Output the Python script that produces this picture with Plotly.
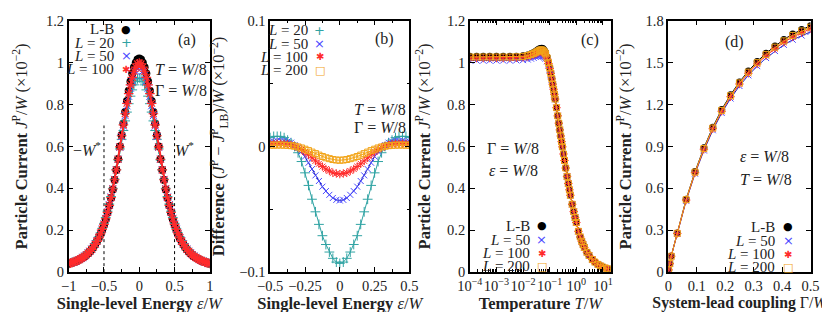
import numpy as np
import plotly.graph_objects as go

# ---------------- data ----------------
# (a) particle current vs single-level energy
eps_a = np.linspace(-1, 1, 81)
J_LB_a = [0.040,0.042,0.045,0.048,0.051,0.055,0.059,0.064,0.069,0.075,0.082,0.090,0.098,0.108,0.119,0.132,0.146,0.162,0.181,0.202,
          0.226,0.253,0.283,0.317,0.354,0.395,0.440,0.488,0.540,0.600,0.655,0.710,0.765,0.817,0.866,0.910,0.948,0.978,1.000,1.015,
          1.020,
          1.015,1.000,0.978,0.948,0.910,0.866,0.817,0.765,0.710,0.655,0.600,0.540,0.488,0.440,0.395,0.354,0.317,0.283,0.253,0.226,
          0.202,0.181,0.162,0.146,0.132,0.119,0.108,0.098,0.090,0.082,0.075,0.069,0.064,0.059,0.055,0.051,0.048,0.045,0.042,0.040]
J_L20_a = [0.042,0.044,0.047,0.050,0.053,0.057,0.061,0.066,0.072,0.078,0.085,0.093,0.102,0.112,0.123,0.137,0.151,0.168,0.187,0.209,
           0.233,0.261,0.291,0.325,0.361,0.400,0.444,0.489,0.536,0.588,0.634,0.676,0.722,0.764,0.804,0.840,0.870,0.894,0.911,0.923,
           0.927,
           0.923,0.911,0.894,0.870,0.840,0.804,0.764,0.722,0.676,0.634,0.588,0.536,0.489,0.444,0.400,0.361,0.325,0.291,0.261,0.233,
           0.209,0.187,0.168,0.151,0.137,0.123,0.112,0.102,0.093,0.085,0.078,0.072,0.066,0.061,0.057,0.053,0.050,0.047,0.044,0.042]
J_L50_a = [0.041,0.043,0.046,0.049,0.052,0.056,0.060,0.065,0.071,0.077,0.084,0.092,0.100,0.110,0.122,0.135,0.149,0.165,0.185,0.206,
           0.230,0.257,0.288,0.322,0.359,0.399,0.443,0.489,0.539,0.596,0.647,0.697,0.747,0.794,0.839,0.878,0.913,0.940,0.959,0.973,
           0.977,
           0.973,0.959,0.940,0.913,0.878,0.839,0.794,0.747,0.697,0.647,0.596,0.539,0.489,0.443,0.399,0.359,0.322,0.288,0.257,0.230,
           0.206,0.185,0.165,0.149,0.135,0.122,0.110,0.100,0.092,0.084,0.077,0.071,0.065,0.060,0.056,0.052,0.049,0.046,0.043,0.041]
J_L100_a = [0.041,0.043,0.046,0.049,0.052,0.056,0.060,0.065,0.070,0.076,0.083,0.091,0.099,0.109,0.120,0.133,0.147,0.164,0.183,0.204,
            0.228,0.255,0.285,0.319,0.356,0.397,0.441,0.488,0.539,0.598,0.651,0.703,0.756,0.806,0.852,0.894,0.930,0.959,0.979,0.994,
            0.998,
            0.994,0.979,0.959,0.930,0.894,0.852,0.806,0.756,0.703,0.651,0.598,0.539,0.488,0.441,0.397,0.356,0.319,0.285,0.255,0.228,
            0.204,0.183,0.164,0.147,0.133,0.120,0.109,0.099,0.091,0.083,0.076,0.070,0.065,0.060,0.056,0.052,0.049,0.046,0.043,0.041]
wstar = [-0.5, 0.5]
wstar_top = 0.7

# (b) difference to L-B
eps_b = np.linspace(-0.5, 0.5, 41)
D_L20 = [0.007,0.008,0.008,0.008,0.007,0.005,0.003,0.000,-0.005,-0.012,-0.021,-0.031,-0.042,-0.052,-0.062,-0.071,-0.078,-0.084,-0.089,-0.092,
         -0.093,
         -0.092,-0.089,-0.084,-0.078,-0.071,-0.062,-0.052,-0.042,-0.031,-0.021,-0.012,-0.005,0.000,0.003,0.005,0.007,0.008,0.008,0.008,0.007]
D_L50 = [0.004,0.004,0.0045,0.0045,0.0045,0.004,0.003,0.001,-0.001,-0.004,-0.008,-0.013,-0.018,-0.023,-0.0275,-0.032,-0.0355,-0.0385,-0.041,-0.0425,
         -0.043,
         -0.0425,-0.041,-0.0385,-0.0355,-0.032,-0.0275,-0.023,-0.018,-0.013,-0.008,-0.004,-0.001,0.001,0.003,0.004,0.0045,0.0045,0.0045,0.004,0.004]
D_L100 = [0.002,0.0021,0.0022,0.0022,0.0021,0.0018,0.0012,0.0004,-0.0008,-0.0024,-0.0044,-0.0066,-0.009,-0.0115,-0.0138,-0.016,-0.018,-0.0195,-0.021,-0.0215,
          -0.022,
          -0.0215,-0.021,-0.0195,-0.018,-0.016,-0.0138,-0.0115,-0.009,-0.0066,-0.0044,-0.0024,-0.0008,0.0004,0.0012,0.0018,0.0021,0.0022,0.0022,0.0021,0.002]
D_L200 = [0.001,0.001,0.0011,0.0011,0.001,0.0009,0.0006,0.0002,-0.0004,-0.0012,-0.0022,-0.0033,-0.0045,-0.0057,-0.0069,-0.008,-0.009,-0.0097,-0.0104,-0.0108,
          -0.011,
          -0.0108,-0.0104,-0.0097,-0.009,-0.008,-0.0069,-0.0057,-0.0045,-0.0033,-0.0022,-0.0012,-0.0004,0.0002,0.0006,0.0009,0.001,0.0011,0.0011,0.001,0.001]

# (c) particle current vs temperature
T_c = [1e-4,1.8e-4,3.2e-4,5.6e-4,1e-3,1.8e-3,3.2e-3,5.6e-3,0.01,0.015,0.02,0.025,0.03,0.035,0.04,0.045,0.05,0.055,0.06,0.065,
       0.07,0.08,0.09,0.1,0.11,0.12,0.13,0.14,0.15,0.16,0.18,0.2,0.22,0.24,0.26,0.28,0.3,0.33,0.36,0.4,
       0.45,0.5,0.55,0.6,0.7,0.8,0.9,1.0,1.2,1.4,1.6,1.8,2.0,2.5,3.0,4.0,5.0,6.5,8.0,10.0,12.5,15.0]
J_LB_c = [1.030,1.030,1.030,1.030,1.030,1.030,1.030,1.031,1.033,1.037,1.042,1.048,1.054,1.060,1.065,1.068,1.069,1.067,1.063,1.056,
          1.048,1.028,1.004,0.978,0.952,0.925,0.899,0.874,0.850,0.827,
          0.785,0.746,0.711,0.679,0.650,0.623,0.598,0.564,0.533,0.497,0.457,0.423,0.393,0.367,0.324,0.289,0.261,0.237,0.195,0.168,
          0.147,0.131,0.118,0.095,0.080,0.060,0.048,0.037,0.030,0.024,0.019,0.016]
J_L50_c = [1.010,1.010,1.010,1.010,1.010,1.010,1.010,1.011,1.012,1.015,1.019,1.023,1.027,1.030,1.032,1.033,1.033,1.031,1.028,1.024,
           1.019,1.006,0.988,0.966,0.943,0.919,0.895,0.871,0.848,0.825,
           0.785,0.746,0.711,0.679,0.650,0.623,0.598,0.564,0.533,0.497,0.457,0.423,0.393,0.367,0.324,0.289,0.261,0.237,0.195,0.168,
           0.147,0.131,0.118,0.095,0.080,0.060,0.048,0.037,0.030,0.024,0.019,0.016]
J_L100_c = [1.022,1.022,1.022,1.022,1.022,1.022,1.022,1.023,1.025,1.029,1.034,1.039,1.044,1.049,1.053,1.055,1.055,1.053,1.049,1.043,
            1.036,1.018,0.996,0.972,0.948,0.922,0.897,0.873,0.849,0.826,
            0.785,0.746,0.711,0.679,0.650,0.623,0.598,0.564,0.533,0.497,0.457,0.423,0.393,0.367,0.324,0.289,0.261,0.237,0.195,0.168,
            0.147,0.131,0.118,0.095,0.080,0.060,0.048,0.037,0.030,0.024,0.019,0.016]
J_L200_c = [1.027,1.027,1.027,1.027,1.027,1.027,1.027,1.028,1.030,1.034,1.039,1.044,1.049,1.054,1.058,1.061,1.061,1.059,1.055,1.049,
            1.042,1.023,1.000,0.975,0.950,0.924,0.898,0.873,0.850,0.827,
            0.785,0.746,0.711,0.679,0.650,0.623,0.598,0.564,0.533,0.497,0.457,0.423,0.393,0.367,0.324,0.289,0.261,0.237,0.195,0.168,
            0.147,0.131,0.118,0.095,0.080,0.060,0.048,0.037,0.030,0.024,0.019,0.016]
T_ticks = [1e-4, 1e-3, 1e-2, 1e-1, 1e0, 1e1]
T_ticktext = ["10<sup>\u22124</sup>", "10<sup>\u22123</sup>", "10<sup>\u22122</sup>", "10<sup>\u22121</sup>", "10<sup>0</sup>", "10<sup>1</sup>"]

# (d) particle current vs system-lead coupling
G_d = [0.001,0.005,0.01,0.03125,0.0625,0.09375,0.125,0.15625,0.1875,0.21875,0.25,0.28125,0.3125,0.34375,0.375,0.40625,0.4375,0.46875,0.5]
J_LB_d = [0.016,0.062,0.115,0.280,0.522,0.720,0.890,1.038,1.165,1.270,1.362,1.440,1.508,1.568,1.620,1.666,1.705,1.737,1.765]
J_L50_d = [0.016,0.061,0.113,0.274,0.511,0.705,0.871,1.016,1.140,1.243,1.333,1.409,1.475,1.533,1.583,1.627,1.664,1.694,1.720]
J_L100_d = [0.016,0.061,0.114,0.277,0.516,0.712,0.880,1.027,1.152,1.256,1.347,1.424,1.491,1.550,1.601,1.646,1.684,1.716,1.742]
J_L200_d = [0.016,0.062,0.114,0.278,0.519,0.716,0.885,1.032,1.158,1.263,1.355,1.432,1.500,1.559,1.611,1.656,1.695,1.727,1.754]

for arr in (J_LB_a, J_L20_a, J_L50_a, J_L100_a):
    assert len(arr) == len(eps_a), len(arr)
for arr in (D_L20, D_L50, D_L100, D_L200):
    assert len(arr) == len(eps_b), len(arr)
for arr in (J_LB_c, J_L50_c, J_L100_c, J_L200_c):
    assert len(arr) == len(T_c), len(arr)
for arr in (J_LB_d, J_L50_d, J_L100_d, J_L200_d):
    assert len(arr) == len(G_d), len(arr)

# ---------------- style ----------------
W, H = 830, 312
SERIF = "Liberation Serif"
C_LB = "black"
C20 = "#2fa3a3"
C50 = "#4a4aff"
C50L = "#1f1fb0"
C100 = "#ff2b2b"
C200 = "#f2a418"
EPS = 1e-6


def mk(name, big=False):
    s = 1 if big else 0
    return {
        "LB": dict(symbol="circle", size=7 + s, color=C_LB, line=dict(width=0)),
        "L20": dict(symbol="cross-thin", size=7, line=dict(color=C20, width=1)),
        "L50": dict(symbol="x-thin", size=6 + s, line=dict(color=C50, width=1)),
        "L100": dict(symbol="asterisk", size=7 + s, line=dict(color=C100, width=1.2 if big else 1)),
        "L200": dict(symbol="square-open", size=6, color=C200, line=dict(color=C200, width=1)),
    }[name]


LINEC = {"LB": "black", "L20": C20, "L50": C50L, "L100": C100, "L200": C200}

fig = go.Figure()


def add(x, y, key, xa, ya, lw=1.0, big=False):
    fig.add_trace(go.Scatter(x=x, y=y, mode="lines+markers", marker=mk(key, big),
                             line=dict(color=LINEC[key], width=lw),
                             xaxis=xa, yaxis=ya, showlegend=False, hoverinfo="skip"))


# (a)
for xv in wstar:
    fig.add_trace(go.Scatter(x=[xv, xv], y=[0, wstar_top], mode="lines",
                             line=dict(color="black", width=1, dash="3px,3px"),
                             xaxis="x", yaxis="y", showlegend=False, hoverinfo="skip"))
add(eps_a, J_LB_a, "LB", "x", "y", big=True)
add(eps_a, J_L20_a, "L20", "x", "y", big=True)
add(eps_a, J_L50_a, "L50", "x", "y", big=True)
add(eps_a, J_L100_a, "L100", "x", "y", lw=2, big=True)
# (b)
add(eps_b, D_L20, "L20", "x2", "y2")
add(eps_b, D_L50, "L50", "x2", "y2")
add(eps_b, D_L100, "L100", "x2", "y2")
add(eps_b, D_L200, "L200", "x2", "y2")
# (c)
add(T_c, J_LB_c, "LB", "x3", "y3")
add(T_c, J_L50_c, "L50", "x3", "y3")
add(T_c, J_L100_c, "L100", "x3", "y3")
add(T_c, J_L200_c, "L200", "x3", "y3")
# (d)
add(G_d, J_LB_d, "LB", "x4", "y4")
add(G_d, J_L50_d, "L50", "x4", "y4")
add(G_d, J_L100_d, "L100", "x4", "y4")
add(G_d, J_L200_d, "L200", "x4", "y4")

TOP, BOT = 5, 270
ydom = [1 - BOT / H, 1 - TOP / H]
panels_px = [(49, 194), (256, 399), (461, 606), (665, 811)]

tickfont = dict(family=SERIF, size=14.5, color="#222")
titlefont = dict(family=SERIF, size=16.5, color="#222")
titlefont_d = dict(family=SERIF, size=15.8, color="#222")


def axstyle(**kw):
    d = dict(showline=True, linecolor="black", linewidth=1.5, mirror="allticks",
             ticks="inside", ticklen=5, tickwidth=1, tickcolor="black",
             showgrid=False, zeroline=False, tickfont=tickfont, fixedrange=True,
             ticklabeloverflow="allow", tickangle=0)
    d.update(kw)
    return d


def minor(dt):
    return dict(ticks="inside", ticklen=3, tickwidth=1, tickcolor="black", dtick=dt, showgrid=False)


xtitle_e = "<b>Single-level Energy</b> <i>\u03b5</i>/<i>W</i>"
ytitle_J = "<b>Particle Current</b> <i>J</i><sup>P</sup>/<i>W</i> (\u00d710<sup>\u22122</sup>)"

layout = dict(width=W, height=H, margin=dict(l=0, r=0, t=0, b=0),
              paper_bgcolor="white", plot_bgcolor="white", showlegend=False)

layout["xaxis"] = axstyle(domain=[panels_px[0][0] / W, panels_px[0][1] / W], range=[-1 - EPS, 1 + EPS], dtick=0.5, tick0=0,
                          minor=minor(0.25), anchor="y",
                          title=dict(text=xtitle_e, font=titlefont, standoff=2))
layout["yaxis"] = axstyle(domain=ydom, range=[0, 1.2 + EPS], dtick=0.2, tick0=0, anchor="x",
                          title=dict(text=ytitle_J, font=titlefont, standoff=14))
layout["xaxis2"] = axstyle(domain=[panels_px[1][0] / W, panels_px[1][1] / W], range=[-0.5 - EPS, 0.5 + EPS], dtick=0.25, tick0=0,
                           minor=minor(0.125), anchor="y2",
                           title=dict(text=xtitle_e, font=titlefont, standoff=2))
layout["yaxis2"] = axstyle(domain=ydom, range=[-0.1 - EPS, 0.1 + EPS], dtick=0.1, tick0=0, minor=minor(0.05), anchor="x2",
                           title=dict(text="<b>Difference</b> (<i>J</i><sup>P</sup> \u2212 <i>J</i><sup>P</sup><sub>LB</sub>)/<i>W</i> (\u00d710<sup>\u22122</sup>)",
                                      font=titlefont, standoff=10))
layout["xaxis3"] = axstyle(domain=[panels_px[2][0] / W, panels_px[2][1] / W], type="log", range=[-4, 1.3],
                           tickmode="array", tickvals=T_ticks, ticktext=T_ticktext,
                           minor=dict(ticks="inside", ticklen=3, tickwidth=1, tickcolor="black", dtick="D1", showgrid=False),
                           anchor="y3",
                           title=dict(text="<b>Temperature</b> <i>T</i>/<i>W</i>", font=titlefont, standoff=2))
layout["yaxis3"] = axstyle(domain=ydom, range=[0, 1.2 + EPS], dtick=0.2, tick0=0, anchor="x3",
                           title=dict(text=ytitle_J, font=titlefont, standoff=12))
layout["xaxis4"] = axstyle(domain=[panels_px[3][0] / W, panels_px[3][1] / W], range=[0, 0.5 + EPS], dtick=0.1, tick0=0,
                           anchor="y4",
                           title=dict(text="<b>System-lead coupling</b> \u0393/<i>W</i>", font=titlefont_d, standoff=2))
layout["yaxis4"] = axstyle(domain=ydom, range=[0, 1.8 + EPS], dtick=0.3, tick0=0, anchor="x4",
                           title=dict(text=ytitle_J, font=titlefont, standoff=10))
fig.update_layout(**layout)


def ann(px, py, text, xanchor="center", size=16, color="#222", family=SERIF):
    fig.add_annotation(x=px / W, y=1 - py / H, xref="paper", yref="paper", text=text, showarrow=False,
                       xanchor=xanchor, yanchor="middle", font=dict(family=family, size=size, color=color))


GLYPH = {"LB": ("\u25cf", C_LB, 11), "L20": ("+", C20, 13), "L50": ("\u00d7", C50, 13),
         "L100": ("\u2731", C100, 10), "L200": ("\u25a1", C200, 11)}
LABEL = {"LB": "L-B", "L20": "<i>L</i> = 20", "L50": "<i>L</i> = 50", "L100": "<i>L</i> = 100", "L200": "<i>L</i> = 200"}


def legend(xtext, xglyph, rows, keys):
    for yy, k in zip(rows, keys):
        ann(xtext, yy, LABEL[k], xanchor="right", size=15)
        g, c, s = GLYPH[k]
        ann(xglyph, yy, g, color=c, size=s, family="DejaVu Sans")


# (a) texts
ann(171, 25, "(a)")
ann(164, 56, "<i>T</i> = <i>W</i>/8")
ann(164, 79, "\u0393 = <i>W</i>/8")
ann(68, 140, "\u2212<i>W</i><sup>*</sup>")
ann(168, 140, "<i>W</i><sup>*</sup>")
legend(98, 108, [14, 28, 42, 56], ["LB", "L20", "L50", "L100"])
# (b)
ann(373, 24, "(b)")
ann(369, 99, "<i>T</i> = <i>W</i>/8")
ann(369, 118, "\u0393 = <i>W</i>/8")
legend(297, 307, [15, 29, 43, 57], ["L20", "L50", "L100", "L200"])
# (c)
ann(585, 25, "(c)")
ann(505, 140, "\u0393 = <i>W</i>/8")
ann(506, 163, "<i>\u03b5</i> = <i>W</i>/8")
legend(525, 535, [221, 236, 250, 264], ["LB", "L50", "L100", "L200"])
# (d)
ann(733, 27, "(d)")
ann(764, 148, "<i>\u03b5</i> = <i>W</i>/8")
ann(765, 172, "<i>T</i> = <i>W</i>/8")
legend(777, 788, [222, 237, 251, 265], ["LB", "L50", "L100", "L200"])

fig.write_html("out.html")
